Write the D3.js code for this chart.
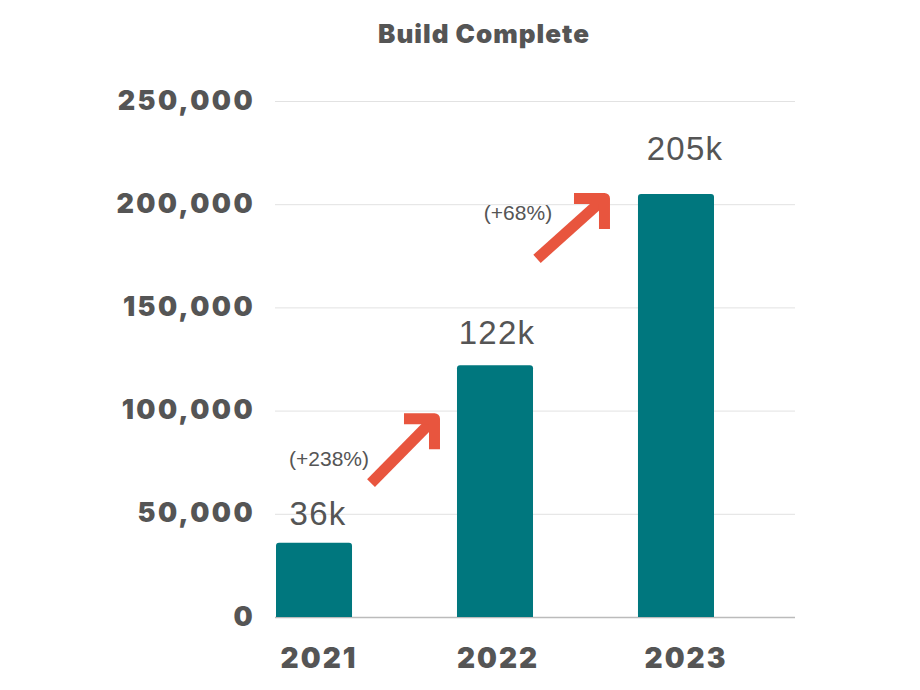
<!DOCTYPE html>
<html>
<head>
<meta charset="utf-8">
<script src="https://cdn.jsdelivr.net/npm/d3@7"></script>
<style>
  body { margin: 0; background: #fff; }
  svg { display: block; }
</style>
</head>
<body>
<div id="chart"></div>
<script>
const title = 'Build Complete';
const years = ['2021', '2022', '2023'];
const builds = [36000, 122000, 205000];
const valueLabels = ['36k', '122k', '205k'];
const yTicks = [0, 50000, 100000, 150000, 200000, 250000];
// growth annotations between consecutive years
const growthFrom = ['2021', '2022'];
const growthTo = ['2022', '2023'];
const growthLabels = ['(+238%)', '(+68%)'];

const W = 920, H = 690;
const grey = '#555555';
const teal = '#00777e';
const arrowRed = '#e8553e';
const bold = 'Inter, "DejaVu Sans", sans-serif';
const plain = '"Liberation Sans", Arial, sans-serif';

// labels in the original sit a little off the bar centres
const labelNudgeX = [4, 2, 9];
const valueNudgeY = [0, -3, -16];

const svg = d3.select('#chart').append('svg')
  .attr('width', W)
  .attr('height', H);

const x = d3.scaleBand()
  .domain(years)
  .range([276, 714])
  .paddingInner(0.58)
  .paddingOuter(0);

const y = d3.scaleLinear()
  .domain([0, 250000])
  .range([617, 101]);

const gridRight = 795;

// title
svg.append('text')
  .attr('x', 484)
  .attr('y', 43)
  .attr('text-anchor', 'middle')
  .attr('font-family', bold)
  .attr('font-weight', 900)
  .attr('font-size', 26)
  .attr('letter-spacing', 1)
  .attr('fill', grey)
  .text(title);

// grid lines
svg.append('g')
  .selectAll('line')
  .data(yTicks)
  .enter()
  .append('line')
  .attr('x1', 275)
  .attr('x2', gridRight)
  .attr('y1', d => y(d) + 0.5)
  .attr('y2', d => y(d) + 0.5)
  .attr('stroke', d => d === 0 ? '#bbbbbb' : '#e2e2e2')
  .attr('stroke-width', d => d === 0 ? 1.5 : 1);

// y axis labels
const yAxis = d3.axisLeft(y)
  .tickValues(yTicks)
  .tickSize(0)
  .tickPadding(0)
  .tickFormat(d3.format(','));

const yAxisGroup = svg.append('g')
  .attr('transform', 'translate(255,0)')
  .call(yAxis);
yAxisGroup.select('.domain').remove();
yAxisGroup.selectAll('text')
  .attr('font-family', bold)
  .attr('font-weight', 900)
  .attr('font-size', 27)
  .attr('letter-spacing', 2.4)
  .attr('fill', grey)
  .attr('dy', '0.3em');

// x axis labels
const xAxis = d3.axisBottom(x).tickSize(0).tickPadding(0);
const xAxisGroup = svg.append('g')
  .attr('transform', 'translate(0,648)')
  .call(xAxis);
xAxisGroup.select('.domain').remove();
xAxisGroup.selectAll('text')
  .attr('font-family', bold)
  .attr('font-weight', 900)
  .attr('font-size', 28)
  .attr('letter-spacing', 2)
  .attr('fill', grey)
  .attr('dx', (d, i) => labelNudgeX[i] + 1)
  .attr('dy', '0.7em');

// bars
svg.append('g')
  .selectAll('rect')
  .data(years)
  .enter()
  .append('rect')
  .attr('x', d => x(d))
  .attr('y', (d, i) => y(builds[i]))
  .attr('width', x.bandwidth())
  .attr('height', (d, i) => y(0) - y(builds[i]))
  .attr('rx', 3)
  .attr('fill', teal);
// square off the bottom corners
svg.append('g')
  .selectAll('rect')
  .data(years)
  .enter()
  .append('rect')
  .attr('x', d => x(d))
  .attr('y', y(0) - 6)
  .attr('width', x.bandwidth())
  .attr('height', 6)
  .attr('fill', teal);

// value labels
svg.append('g')
  .selectAll('text')
  .data(years)
  .enter()
  .append('text')
  .attr('x', (d, i) => x(d) + x.bandwidth() / 2 + labelNudgeX[i])
  .attr('y', (d, i) => y(builds[i]) - 18 + valueNudgeY[i])
  .attr('text-anchor', 'middle')
  .attr('font-family', plain)
  .attr('font-size', 33)
  .attr('letter-spacing', 1.2)
  .attr('fill', grey)
  .text((d, i) => valueLabels[i]);

// growth arrows
const arm = 36;
growthLabels.forEach((label, i) => {
  const toIdx = years.indexOf(growthTo[i]);
  const gapLeft = x(growthFrom[i]) + x.bandwidth();
  const gapRight = x(growthTo[i]);
  // arrow rises through the gap towards the next bar top
  const headX = gapRight - (i === 0 ? 17 : 28);
  const headY = i === 0 ? y(builds[toIdx]) + 48 : y(builds[toIdx]) - 1;
  const tailX = gapLeft + (i === 0 ? 19 : 4);
  const tailY = headY + (i === 0 ? 70 : 66);
  const g = svg.append('g');
  g.append('line')
    .attr('x1', tailX)
    .attr('y1', tailY)
    .attr('x2', headX - 5)
    .attr('y2', headY + 5)
    .attr('stroke', arrowRed)
    .attr('stroke-width', 11);
  g.append('path')
    .attr('d', `M${headX - arm},${headY + 5.5} L${headX - 5.5},${headY + 5.5} L${headX - 5.5},${headY + arm}`)
    .attr('fill', 'none')
    .attr('stroke', arrowRed)
    .attr('stroke-width', 11)
    .attr('stroke-linejoin', 'round');
  g.append('text')
    .attr('x', i === 0 ? tailX - 42 : tailX - 19)
    .attr('y', i === 0 ? tailY - 17 : headY + 27)
    .attr('text-anchor', 'middle')
    .attr('font-family', plain)
    .attr('font-size', 21)
    .attr('fill', grey)
    .text(label);
});
</script>
</body>
</html>
